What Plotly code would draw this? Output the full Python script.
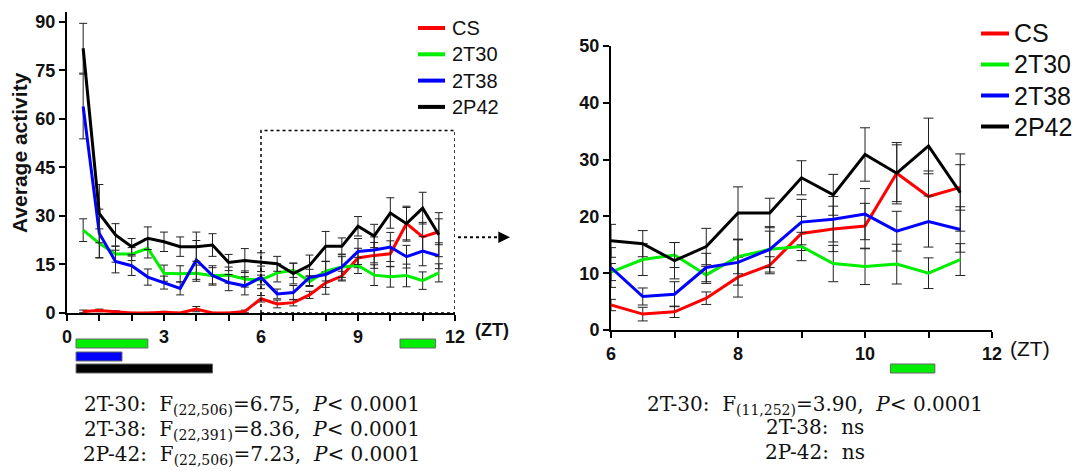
import plotly.graph_objects as go

W, H = 1083, 471

# Zeitgeber time of each half-hour bin
zt = [0.5, 1.0, 1.5, 2.0, 2.5, 3.0, 3.5, 4.0, 4.5, 5.0, 5.5, 6.0,
      6.5, 7.0, 7.5, 8.0, 8.5, 9.0, 9.5, 10.0, 10.5, 11.0, 11.5]

# Mean activity per group
cs = [0.5, 0.8, 0.4, 0.0, 0.0, 0.2, 0.0, 1.2, 0.0, 0.0, 0.5, 4.4,
      2.8, 3.2, 5.6, 9.3, 11.4, 17.0, 17.8, 18.3, 27.6, 23.5, 25.1]
t30 = [25.6, 21.5, 18.2, 18.2, 20.0, 12.3, 12.1, 12.3, 11.5, 11.7, 10.5, 10.2,
       12.4, 13.2, 9.7, 12.9, 14.2, 14.7, 11.7, 11.2, 11.6, 10.0, 12.4]
t38 = [63.8, 24.6, 15.9, 14.6, 11.1, 9.4, 7.6, 16.4, 11.6, 9.4, 8.4, 11.0,
       5.9, 6.3, 11.0, 11.9, 14.2, 19.0, 19.5, 20.4, 17.4, 19.1, 17.7]
p42 = [81.8, 30.7, 24.1, 20.5, 23.1, 22.0, 20.5, 20.5, 21.0, 15.6, 16.2, 15.7,
       15.2, 12.2, 14.7, 20.6, 20.6, 26.8, 23.8, 30.9, 27.6, 32.4, 24.2]

# Standard error of each mean
cs_err = [0.4, 0.4, 0.3, 0.2, 0.2, 0.3, 0.2, 0.8, 0.2, 0.2, 0.4, 1.0,
          1.2, 1.0, 1.1, 3.5, 1.5, 3.0, 4.0, 4.0, 5.0, 4.5, 4.0]
t30_err = [3.5, 4.5, 2.5, 2.0, 3.0, 2.5, 2.5, 2.5, 2.5, 2.5, 2.5, 1.5,
           2.8, 2.2, 1.5, 3.0, 3.2, 2.5, 3.2, 3.2, 3.5, 2.7, 2.8]
t38_err = [10.0, 7.5, 3.5, 3.0, 2.5, 2.0, 2.0, 6.0, 3.0, 2.5, 2.8, 3.5,
           1.5, 2.2, 2.5, 4.0, 4.0, 4.0, 4.0, 4.5, 3.5, 4.5, 4.0]
p42_err = [7.7, 9.0, 3.5, 2.5, 3.5, 3.0, 3.0, 4.5, 3.5, 2.5, 3.7, 2.9,
           2.3, 3.2, 3.2, 4.6, 2.6, 3.0, 3.6, 4.7, 5.4, 4.9, 6.8]

group_names = ["CS", "2T30", "2T38", "2P42"]
group_colors = ["#ff0000", "#00ee00", "#0000ff", "#000000"]

# Periods of significant difference from CS: (group index, start ZT, end ZT)
sig_full = [(1, 0.28, 2.5), (2, 0.28, 1.7), (3, 0.28, 4.5), (1, 10.3, 11.4)]
sig_zoom = [(1, 10.4, 11.1)]

SP = "&nbsp;&nbsp;"
stats_full = [
    f"2T-30:{SP}F<sub>(22,506)</sub>=6.75,{SP}<i>P</i>< 0.0001",
    f"2T-38:{SP}F<sub>(22,391)</sub>=8.36,{SP}<i>P</i>< 0.0001",
    f"2P-42:{SP}F<sub>(22,506)</sub>=7.23,{SP}<i>P</i>< 0.0001",
]
stats_zoom = [
    f"2T-30:{SP}F<sub>(11,252)</sub>=3.90,{SP}<i>P</i>< 0.0001",
    f"2T-38:{SP}ns",
    f"2P-42:{SP}ns",
]

means = [cs, t30, t38, p42]
errs = [cs_err, t30_err, t38_err, p42_err]


def px_x(p):
    return p / W


def px_y(p):
    return 1 - p / H


fig = go.Figure()

# Full 12-hour panel
for name, col, m, e in zip(group_names, group_colors, means, errs):
    fig.add_trace(go.Scatter(
        x=zt, y=m, mode="lines", name=name, showlegend=False,
        line=dict(color=col, width=3),
        error_y=dict(type="data", array=e, color="#222222", thickness=1, width=4),
        xaxis="x", yaxis="y"))

# Zoomed ZT 6-12 panel
for name, col, m, e in zip(group_names, group_colors, means, errs):
    idx = [i for i, t in enumerate(zt) if t >= 6]
    fig.add_trace(go.Scatter(
        x=[zt[i] for i in idx], y=[m[i] for i in idx], mode="lines", name=name,
        showlegend=False, line=dict(color=col, width=3),
        error_y=dict(type="data", array=[e[i] for i in idx], color="#222222",
                     thickness=1, width=5),
        xaxis="x2", yaxis="y2"))

tick_font = dict(family="Liberation Sans", size=18, color="#111111", weight="bold")
axis_common = dict(showgrid=False, zeroline=False, showline=True, linecolor="black",
                   linewidth=2, ticks="outside", tickcolor="black", tickwidth=2,
                   ticklen=6, tickfont=tick_font, automargin=False)

fig.update_layout(
    width=W, height=H,
    margin=dict(l=0, r=0, t=0, b=0, pad=0, autoexpand=False),
    paper_bgcolor="white", plot_bgcolor="white", showlegend=False,
    xaxis=dict(domain=[px_x(67), px_x(455)], range=[0, 12], anchor="y",
               tickvals=[0, 1, 2, 3, 4, 5, 6, 7, 8, 9, 10, 11, 12],
               ticktext=["0", "", "", "3", "", "", "6", "", "", "9", "", "", "12"],
               **axis_common),
    yaxis=dict(domain=[px_y(313), px_y(12)], range=[0, 93], anchor="x",
               tickvals=[0, 15, 30, 45, 60, 75, 90], **axis_common),
    xaxis2=dict(domain=[px_x(611), px_x(992)], range=[6, 12], anchor="y2",
                tickvals=[6, 7, 8, 9, 10, 11, 12],
                ticktext=["6", "", "8", "", "10", "", "12"],
                **axis_common),
    yaxis2=dict(domain=[px_y(330), px_y(46)], range=[0, 50], anchor="x2",
                tickvals=[0, 10, 20, 30, 40, 50], **axis_common),
)

# Y-axis title of the full panel
fig.add_annotation(x=px_x(20), y=px_y(153), xref="paper", yref="paper",
                   text="Average activity", textangle=-90, showarrow=False,
                   xanchor="center", yanchor="middle",
                   font=dict(family="Liberation Sans", size=21, color="#111111",
                             weight="bold"))

# Legends drawn as colour keys with labels
legend_specs = [
    # (line x0, line x1, text x, first row y, row step, font size)
    (418, 445, 450, 28, 26.3, 20),
    (981, 1009, 1012, 33.5, 31.0, 25),
]
for lx0, lx1, tx, y0, step, fs in legend_specs:
    for k, (name, col) in enumerate(zip(group_names, group_colors)):
        yy = y0 + step * k
        fig.add_shape(type="line", xref="paper", yref="paper",
                      x0=px_x(lx0), x1=px_x(lx1), y0=px_y(yy), y1=px_y(yy),
                      line=dict(color=col, width=4))
        fig.add_annotation(x=px_x(tx), y=px_y(yy), xref="paper", yref="paper",
                           text=name, showarrow=False, xanchor="left",
                           yanchor="middle",
                           font=dict(family="Liberation Sans", size=fs,
                                     color="#111111"))

# "(ZT)" axis unit labels
fig.add_annotation(x=px_x(492), y=px_y(330), xref="paper", yref="paper",
                   text="(ZT)", showarrow=False, xanchor="center", yanchor="middle",
                   font=dict(family="Liberation Sans", size=18, color="#111111",
                             weight="bold"))
fig.add_annotation(x=px_x(1030), y=px_y(348), xref="paper", yref="paper",
                   text="(ZT)", showarrow=False, xanchor="center", yanchor="middle",
                   font=dict(family="Liberation Sans", size=21, color="#111111"))

# Dotted box marking the zoomed window, with a dotted pointer to the right panel
fig.add_shape(type="rect", xref="x", yref="y", x0=6, x1=12, y0=0, y1=56.4,
              line=dict(color="black", width=1.5, dash="dot"))
fig.add_shape(type="line", xref="paper", yref="y", x0=px_x(458), x1=px_x(500),
              y0=23.4, y1=23.4, line=dict(color="black", width=1.8, dash="dot"))
fig.add_annotation(x=px_x(510), y=23.4, xref="paper", yref="y", ax=-12, ay=0,
                   text="", showarrow=True, arrowhead=2, arrowsize=1.3,
                   arrowwidth=1.8, arrowcolor="black")

# Significance bars under each panel
rows_full = {1: (339, 348), 2: (352, 361), 3: (364, 373)}
for g, a, b in sig_full:
    top, bot = rows_full[g]
    fig.add_shape(type="rect", xref="x", yref="paper", x0=a, x1=b,
                  y0=px_y(bot), y1=px_y(top), fillcolor=group_colors[g],
                  line=dict(color="#666666", width=1))
for g, a, b in sig_zoom:
    fig.add_shape(type="rect", xref="x2", yref="paper", x0=a, x1=b,
                  y0=px_y(373), y1=px_y(364), fillcolor=group_colors[g],
                  line=dict(color="#666666", width=1))

# Statistics beneath each panel
stat_font = dict(family="DejaVu Serif", size=20, color="#111111")
for i, s in enumerate(stats_full):
    fig.add_annotation(x=px_x(252), y=px_y(405 + 25 * i), xref="paper", yref="paper",
                       text=s, showarrow=False, xanchor="center", yanchor="middle",
                       font=stat_font)
for i, s in enumerate(stats_zoom):
    yy = 405 if "<sub>" in s else 402
    fig.add_annotation(x=px_x(815), y=px_y(yy + 25 * i), xref="paper", yref="paper",
                       text=s, showarrow=False, xanchor="center", yanchor="middle",
                       font=stat_font)

fig.write_html("out.html")
